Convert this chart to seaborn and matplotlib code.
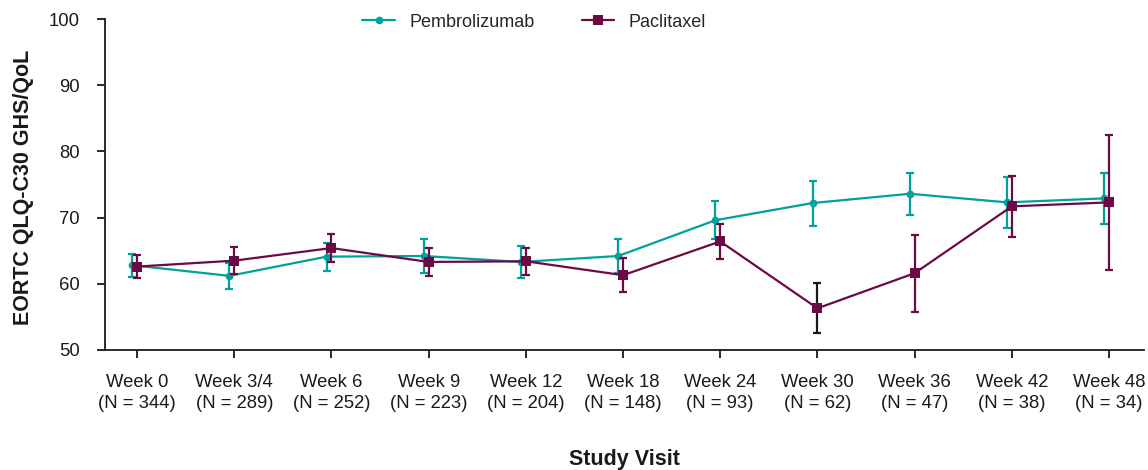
import matplotlib
matplotlib.use("Agg")
import matplotlib.pyplot as plt
import numpy as np
import pandas as pd
import seaborn as sns

# Visits and number of patients at each visit
visits = ["Week 0", "Week 3/4", "Week 6", "Week 9", "Week 12", "Week 18",
          "Week 24", "Week 30", "Week 36", "Week 42", "Week 48"]
n_patients = [344, 289, 252, 223, 204, 148, 93, 62, 47, 38, 34]

# Mean EORTC QLQ-C30 GHS/QoL score and 95% CI half-width per arm
pembro_mean = [62.8, 61.2, 64.1, 64.2, 63.3, 64.2, 69.6, 72.2, 73.6, 72.3, 72.9]
pembro_err = [1.7, 2.0, 2.1, 2.5, 2.4, 2.6, 2.9, 3.4, 3.2, 3.85, 3.8]
pacli_mean = [62.6, 63.5, 65.4, 63.3, 63.4, 61.3, 66.4, 56.3, 61.6, 71.7, 72.3]
pacli_err = [1.7, 2.0, 2.15, 2.1, 2.05, 2.6, 2.7, 3.75, 5.8, 4.6, 10.2]

arms = ["Pembrolizumab", "Paclitaxel"]
colors = {"Pembrolizumab": "#00A19B", "Paclitaxel": "#6B0A45"}
markers = {"Pembrolizumab": "o", "Paclitaxel": "s"}
offsets = {"Pembrolizumab": -0.05, "Paclitaxel": 0.0}

idx = np.arange(len(visits))
df = pd.concat([
    pd.DataFrame({"visit": idx + offsets["Pembrolizumab"], "score": pembro_mean,
                  "err": pembro_err, "arm": "Pembrolizumab"}),
    pd.DataFrame({"visit": idx + offsets["Paclitaxel"], "score": pacli_mean,
                  "err": pacli_err, "arm": "Paclitaxel"}),
], ignore_index=True)

sns.set_theme(style="white")
plt.rcParams["font.family"] = ["Liberation Sans", "DejaVu Sans"]

fig = plt.figure(figsize=(11.48, 4.70), dpi=100)
ax = fig.add_axes([105 / 1148, 1 - 350 / 470, (1144 - 105) / 1148, (350 - 19) / 470])

for arm in arms:
    sub = df[df["arm"] == arm]
    ecolors = [colors[arm]] * len(sub)
    if arm == "Paclitaxel":
        ecolors[visits.index("Week 30")] = "#1a1a1a"
    for (_, row), ec in zip(sub.iterrows(), ecolors):
        ax.errorbar(row["visit"], row["score"], yerr=row["err"], fmt="none",
                    ecolor=ec, elinewidth=1.6, capsize=3.2, capthick=1.6,
                    zorder=2 if arm == "Pembrolizumab" else 4)

sns.lineplot(data=df, x="visit", y="score", hue="arm", style="arm",
             hue_order=arms, style_order=arms, palette=colors,
             markers=markers, dashes=False, linewidth=1.6,
             markeredgewidth=0, ax=ax, legend=True, sort=True,
             estimator=None)
# marker sizes per arm
for line in ax.lines:
    if line.get_marker() == "o":
        line.set_markersize(5.5)
    elif line.get_marker() == "s":
        line.set_markersize(6.5)
        line.set_zorder(5)

ax.set_xlim(-0.33, 10.36)
ax.set_ylim(50, 100)
ax.set_yticks([50, 60, 70, 80, 90, 100])
ax.set_xticks(idx)
ax.set_xticklabels([f"{v}\n(N = {n})" for v, n in zip(visits, n_patients)])
for lab in ax.get_xticklabels():
    lab.set_linespacing(1.32)

for s in ["top", "right"]:
    ax.spines[s].set_visible(False)
for s in ["left", "bottom"]:
    ax.spines[s].set_color("#1a1a1a")
    ax.spines[s].set_linewidth(1.3)

ax.tick_params(axis="both", which="major", direction="out", length=6,
               width=1.3, color="#1a1a1a", labelsize=13.3, labelcolor="#1a1a1a",
               bottom=True, left=True)
ax.tick_params(axis="y", pad=12)
ax.tick_params(axis="x", pad=11)

ax.set_xlabel("Study Visit", fontsize=15.5, fontweight="bold", va="center",
              color="#1a1a1a")
ax.xaxis.set_label_coords(0.5, -(459 - 350) / 331)
ax.set_ylabel("EORTC QLQ-C30 GHS/QoL", fontsize=15.5, fontweight="bold",
              va="center", color="#1a1a1a")
ax.yaxis.set_label_coords(-(105 - 24) / 1039, 0.49)

handles, labels = ax.get_legend_handles_labels()
leg = ax.legend(handles, labels, loc="center", bbox_to_anchor=(0.413, 0.99),
                ncol=2, frameon=False, fontsize=13, handlelength=1.8,
                columnspacing=2.6, handletextpad=0.8)

fig.savefig("out.png", dpi=100)
